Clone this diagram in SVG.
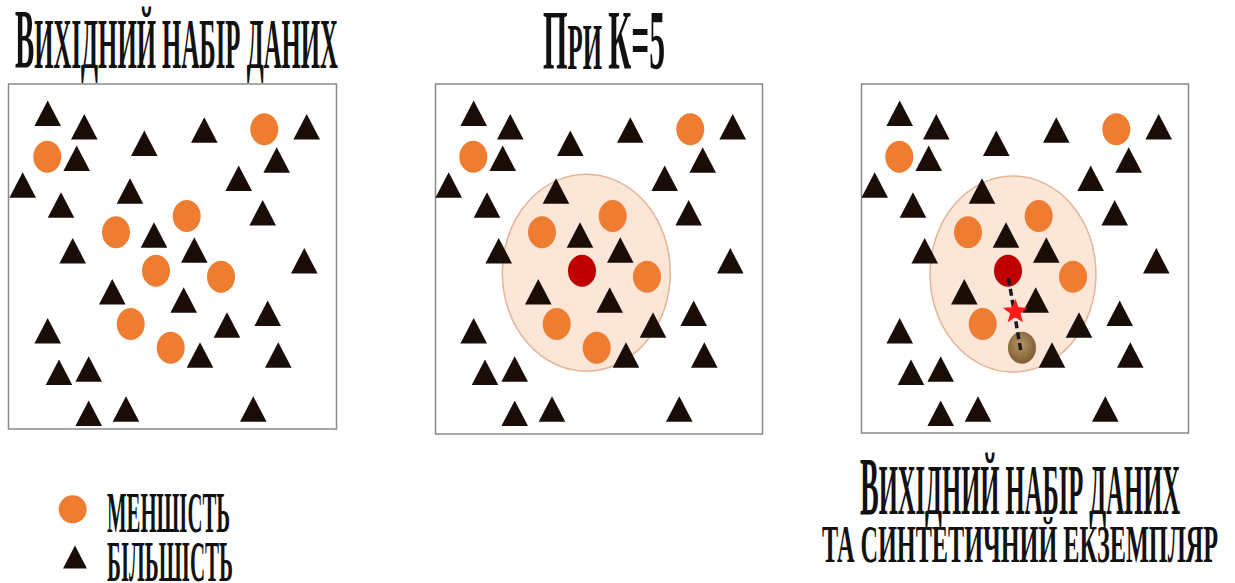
<svg xmlns="http://www.w3.org/2000/svg" xmlns:xlink="http://www.w3.org/1999/xlink" width="1235" height="583" viewBox="0 0 1235 583">
<style>
.t{font-family:"Liberation Serif","Times New Roman",serif;fill:#111;font-weight:bold;}
.sc{text-transform:uppercase;}
.frame{fill:#fff;stroke:#8a8a8a;stroke-width:1.5;}
.tri{fill:#1a0d08;}
.org{fill:#ee7d31;}
.red{fill:#c00000;}
.hood{fill:#fce6d8;stroke:#e3b498;stroke-width:1.5;}
</style>
<defs>
<polygon id="tri" points="0,-12.7 13.3,12.7 -13.3,12.7"/>
<ellipse id="dot" cx="0" cy="0" rx="14" ry="16"/>
<radialGradient id="brown" cx="0.45" cy="0.4" r="0.6">
<stop offset="0" stop-color="#b89466"/>
<stop offset="1" stop-color="#7d5c32"/>
</radialGradient>
<g id="triangles" class="tri">
<use href="#tri" x="47.7" y="113.3"/><use href="#tri" x="84.3" y="126.7"/><use href="#tri" x="144.3" y="143.3"/>
<use href="#tri" x="204.3" y="130"/><use href="#tri" x="306.7" y="126.7"/><use href="#tri" x="76.7" y="158.3"/>
<use href="#tri" x="276.7" y="160"/><use href="#tri" x="22.7" y="185"/><use href="#tri" x="130" y="191"/>
<use href="#tri" x="238.7" y="178.3"/><use href="#tri" x="61" y="205"/><use href="#tri" x="262.7" y="212.7"/>
<use href="#tri" x="154" y="235"/><use href="#tri" x="72.7" y="250.7"/><use href="#tri" x="194.3" y="250"/>
<use href="#tri" x="304.3" y="260.7"/><use href="#tri" x="112.3" y="291.7"/><use href="#tri" x="183.7" y="300"/>
<use href="#tri" x="267.7" y="313.3"/><use href="#tri" x="227" y="325"/><use href="#tri" x="47.7" y="330.7"/>
<use href="#tri" x="200" y="355"/><use href="#tri" x="278.3" y="355"/><use href="#tri" x="59" y="372.3"/>
<use href="#tri" x="88.7" y="369"/><use href="#tri" x="88.7" y="413.3"/><use href="#tri" x="126" y="409"/>
<use href="#tri" x="253.3" y="409"/>
</g>
<g id="minority" class="org">
<use href="#dot" x="264.3" y="129.3"/><use href="#dot" x="47.3" y="156.7"/><use href="#dot" x="186.7" y="216"/>
<use href="#dot" x="116" y="232.3"/><use href="#dot" x="221" y="276.7"/><use href="#dot" x="130.7" y="324"/>
</g>
</defs>
<rect width="1235" height="583" fill="#fff"/>

<g id="title1"><text class="t" x="15" y="68" textLength="323" lengthAdjust="spacingAndGlyphs"><tspan font-size="84">В</tspan><tspan class="sc" font-size="72">ихідний набір даних</tspan></text></g>
<g id="title2"><text class="t" x="543" y="69" textLength="122" lengthAdjust="spacingAndGlyphs"><tspan font-size="84">П</tspan><tspan class="sc" font-size="66">ри </tspan><tspan font-size="84">К=5</tspan></text></g>

<g id="panel1">
<rect class="frame" x="8.5" y="84" width="328" height="345"/>
<use href="#triangles"/>
<use href="#minority"/>
<g class="org"><use href="#dot" x="156" y="270.7"/><use href="#dot" x="170.7" y="347.7"/></g>
</g>

<g id="panel2">
<rect class="frame" x="435.5" y="84" width="327" height="350"/>
<ellipse class="hood" cx="586.3" cy="272.7" rx="84" ry="98.5"/>
<use href="#triangles" x="426"/>
<use href="#minority" x="426"/>
<g transform="translate(426,0)"><use class="org" href="#dot" x="170.7" y="347.7"/><use class="red" href="#dot" x="156" y="270.7"/></g>
</g>

<g id="panel3">
<rect class="frame" x="861.5" y="84" width="327" height="349"/>
<ellipse class="hood" cx="1013" cy="274" rx="83" ry="98"/>
<use href="#triangles" x="852"/>
<use href="#minority" x="852"/>
<use class="red" href="#dot" x="1008" y="270.7"/>
<ellipse cx="1022" cy="347.7" rx="14" ry="16" fill="url(#brown)"/>
<g id="connectors"><line x1="1008.5" y1="278" x2="1021" y2="352" stroke="#1a1a1a" stroke-width="3.5" stroke-dasharray="7 4"/></g>
<polygon fill="#ff1a1a" transform="translate(1015.3,311.7)" points="0,-13 3.23,-4.45 12.36,-4.02 5.23,1.7 7.64,10.52 0,5.5 -7.64,10.52 -5.23,1.7 -12.36,-4.02 -3.23,-4.45"/>
</g>

<g id="legend">
<ellipse class="org" cx="72.7" cy="509.3" rx="14" ry="14"/>
<use class="tri" href="#tri" transform="translate(75,557) scale(0.9)"/>
<text class="t sc" x="107" y="532" font-size="56" textLength="123" lengthAdjust="spacingAndGlyphs">меншість</text>
<text class="t sc" x="107" y="581" font-size="56" textLength="126" lengthAdjust="spacingAndGlyphs">більшість</text>
</g>

<g id="title3">
<text class="t" x="860" y="514" textLength="320" lengthAdjust="spacingAndGlyphs"><tspan font-size="82">В</tspan><tspan class="sc" font-size="72">ихідний набір даних</tspan></text>
<text class="t sc" x="822" y="562" font-size="53" textLength="396" lengthAdjust="spacingAndGlyphs">та синтетичний екземпляр</text>
</g>
</svg>
